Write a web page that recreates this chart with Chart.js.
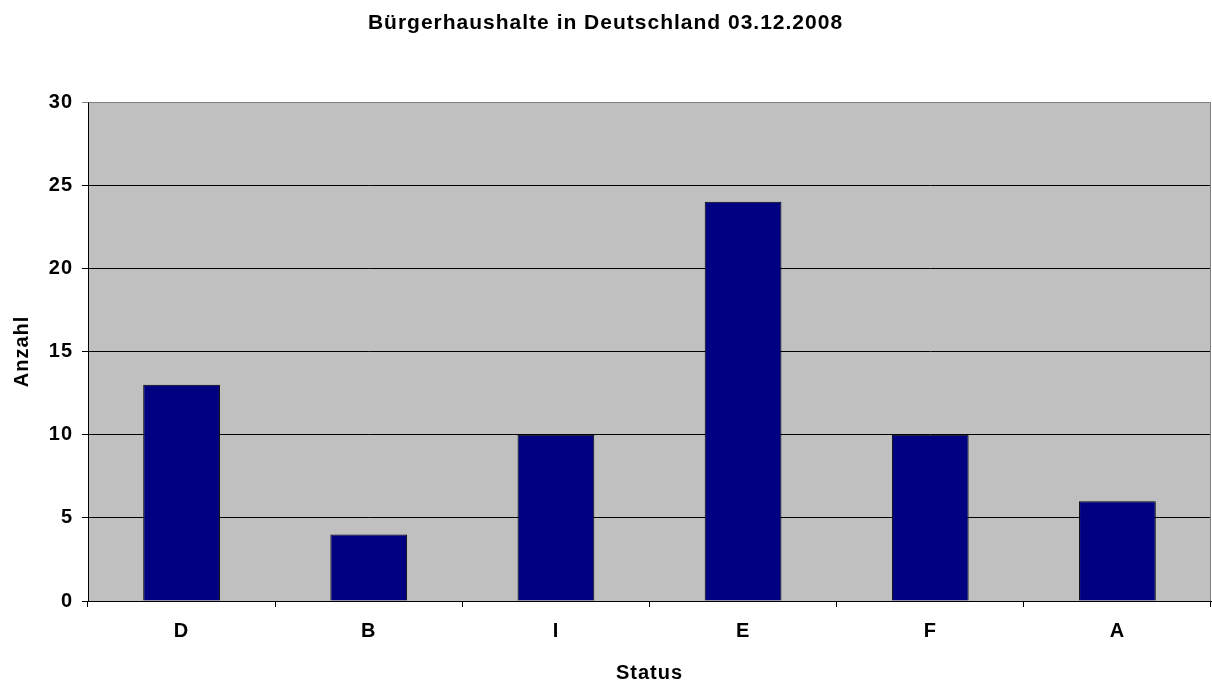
<!DOCTYPE html>
<html>
<head>
<meta charset="utf-8">
<script src="https://cdn.jsdelivr.net/npm/chart.js@4.4.1/dist/chart.umd.min.js"></script>
<style>
  html, body { margin: 0; padding: 0; background: #ffffff; }
  #wrap { width: 1212px; height: 686px; }
</style>
</head>
<body>
<div id="wrap"><canvas id="c" width="1212" height="686"></canvas></div>
<script>
const titleText = 'Bürgerhaushalte in Deutschland 03.12.2008';
const categories = ['D', 'B', 'I', 'E', 'F', 'A'];
const anzahl = [13, 4, 10, 24, 10, 6];
const yTicks = [0, 5, 10, 15, 20, 25, 30];
const xTitle = 'Status';
const yTitle = 'Anzahl';

const FONT = "'Liberation Sans', Arial, sans-serif";

const plotBg = {
  id: 'plotBg',
  beforeDraw(chart) {
    const {ctx, chartArea: a} = chart;
    if ('letterSpacing' in ctx) ctx.letterSpacing = '1px';
    ctx.save();
    ctx.fillStyle = '#C0C0C0';
    ctx.fillRect(a.left, a.top, a.right - a.left, a.bottom - a.top);
    ctx.restore();
  },
  afterDatasetsDraw(chart) {
    const {ctx, chartArea: a} = chart;
    ctx.save();
    ctx.strokeStyle = '#808080';
    ctx.lineWidth = 1;
    ctx.beginPath();
    ctx.moveTo(Math.round(a.left) + 0.5, Math.round(a.top) + 0.5);
    ctx.lineTo(Math.round(a.right) - 0.5, Math.round(a.top) + 0.5);
    ctx.lineTo(Math.round(a.right) - 0.5, Math.round(a.bottom));
    ctx.stroke();
    ctx.restore();
  }
};

new Chart(document.getElementById('c'), {
  type: 'bar',
  data: {
    labels: categories,
    datasets: [{
      label: yTitle,
      data: anzahl,
      backgroundColor: '#000080',
      borderColor: '#000000',
      borderWidth: 1,
      barPercentage: 1,
      categoryPercentage: 0.41
    }]
  },
  options: {
    responsive: false,
    animation: false,
    devicePixelRatio: 1,
    layout: { padding: { left: 0, right: 1, top: 0, bottom: 0 } },
    plugins: {
      legend: { display: false },
      tooltip: { enabled: false },
      title: {
        display: true,
        text: titleText,
        color: '#000',
        font: { family: FONT, size: 21, weight: 'bold', lineHeight: 1.2 },
        padding: { top: 10.4, bottom: 66.4 }
      }
    },
    scales: {
      x: {
        afterFit(s) { s.height = 85; },
        grid: {
          display: true,
          drawOnChartArea: false,
          drawTicks: true,
          tickLength: 6,
          color: '#000',
          offset: true
        },
        border: { display: true, color: '#000', width: 1 },
        ticks: {
          color: '#000',
          padding: 12,
          font: { family: FONT, size: 20, weight: 'bold' }
        },
        title: {
          display: true,
          text: xTitle,
          color: '#000',
          font: { family: FONT, size: 20, weight: 'bold', lineHeight: 1.2 },
          padding: { top: 0, bottom: 1 }
        }
      },
      y: {
        min: 0,
        max: 30,
        afterFit(s) { s.width = 88; },
        afterBuildTicks(s) { s.ticks = yTicks.map(v => ({ value: v })); },
        grid: {
          color: ctx => (ctx.tick && ctx.tick.value === 30) ? '#808080' : '#000000',
          lineWidth: 1,
          drawTicks: true,
          tickLength: 6
        },
        border: { display: true, color: '#000', width: 1 },
        ticks: {
          color: '#000',
          padding: 9,
          font: { family: FONT, size: 20, weight: 'bold' }
        },
        title: {
          display: true,
          text: yTitle,
          color: '#000',
          font: { family: FONT, size: 20, weight: 'bold', lineHeight: 1.2 },
          padding: { top: 10, bottom: 0 }
        }
      }
    }
  },
  plugins: [plotBg]
});
</script>
</body>
</html>
